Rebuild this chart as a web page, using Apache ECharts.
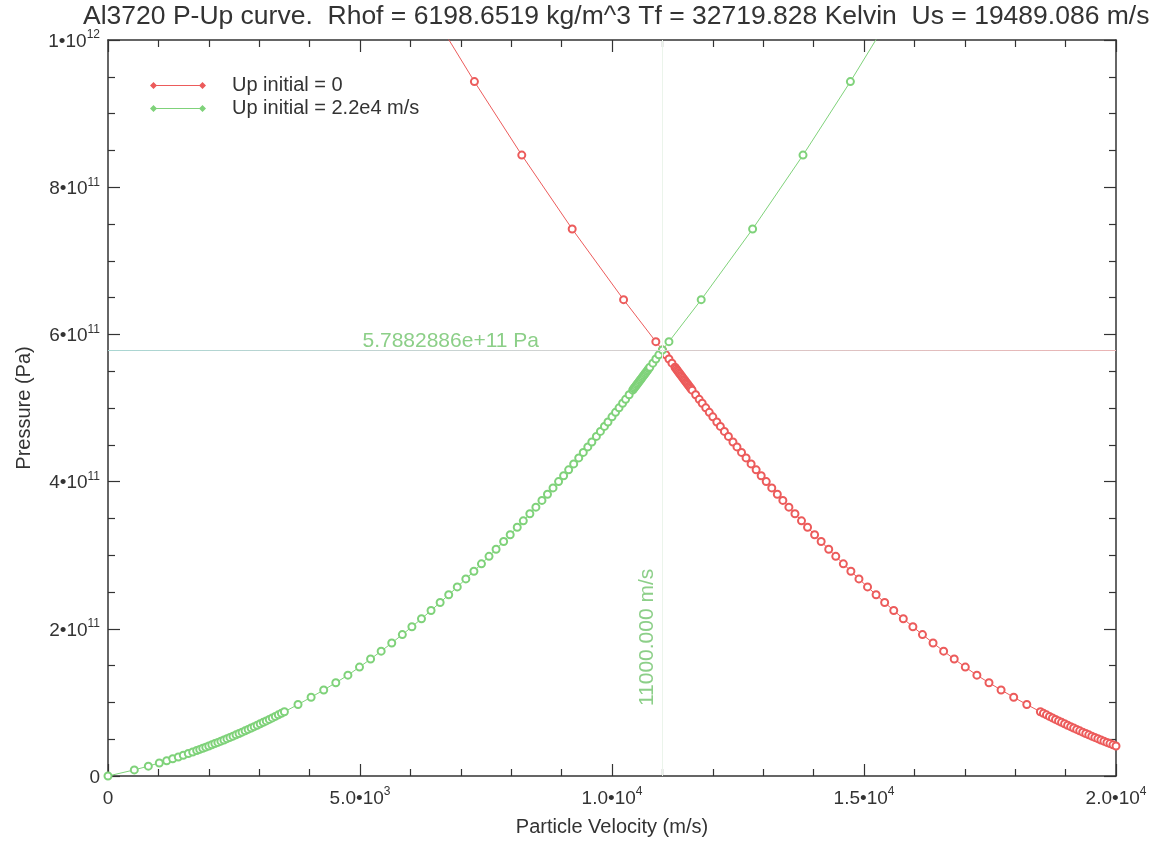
<!DOCTYPE html>
<html>
<head>
<meta charset="utf-8">
<script src="https://cdn.jsdelivr.net/npm/echarts@6/dist/echarts.min.js"></script>
<style>
  html, body { margin: 0; padding: 0; background: #ffffff; }
  #chart { width: 1162px; height: 842px; }
</style>
</head>
<body>
<div id="chart"></div>
<script>
// Branch starting at Up = 0 (rising curve, green)
const risingVelocity = [
  0, 522, 800, 1018, 1165, 1284, 1395, 1494, 1593, 1681, 1760,
  1820, 1880, 1940, 2000, 2060, 2120, 2180, 2240, 2300, 2360, 2420, 2480, 2540, 2600, 2660,
  2720, 2780, 2840, 2900, 2960, 3020, 3080, 3140, 3200, 3260, 3320, 3380, 3440, 3500,
  3770, 4030, 4280, 4520, 4760, 4990, 5210, 5420, 5630, 5840, 6030, 6220, 6410, 6590, 6760,
  6930, 7100, 7260, 7410, 7560, 7700, 7850, 7980, 8120, 8240, 8370, 8490, 8610, 8720, 8830,
  8940, 9040, 9140, 9240, 9340, 9430, 9520, 9600, 9690, 9770, 9850, 9920, 10000, 10070,
  10140, 10210, 10270, 10340,
  10410, 10430, 10450, 10470, 10490, 10510, 10530, 10550, 10570, 10590, 10610, 10630,
  10650, 10670, 10690, 10710, 10730, 10750,
  10810, 10870, 10930, 11000, 11130, 11770, 12790, 13790, 14730, 15660
];
// Pressure along the rising curve, GPa
const risingPressure = [
  0, 8.30, 13.39, 17.71, 20.79, 23.38, 25.87, 28.16, 30.50, 32.64, 34.59,
  36.11, 37.64, 39.19, 40.77, 42.37, 43.99, 45.63, 47.30, 48.98, 50.69, 52.42, 54.17, 55.94, 57.74, 59.56,
  61.40, 63.26, 65.14, 67.04, 68.97, 70.92, 72.89, 74.88, 76.90, 78.93, 80.99, 83.07, 85.17, 87.29,
  97.12, 107.00, 116.89, 126.74, 136.98, 147.98, 158.89, 169.64, 180.73, 192.16, 202.78, 213.69, 224.87, 235.72, 246.19,
  256.88, 267.79, 278.26, 288.26, 298.43, 308.07, 318.57, 327.81, 337.91, 346.68, 356.30, 365.31, 374.42, 382.86, 391.40,
  400.04, 407.97, 415.97, 424.05, 432.21, 439.62, 447.09, 453.78, 461.36, 468.16, 475.00, 481.03, 487.97, 494.07,
  500.22, 506.40, 511.74, 517.99,
  524.28, 526.08, 527.89, 529.70, 531.52, 533.33, 535.15, 536.97, 538.80, 540.63, 542.46, 544.30,
  546.13, 547.97, 549.81, 551.67, 553.52, 555.37,
  560.95, 566.55, 572.19, 578.83, 590.12, 647.2, 743.2, 843.6, 943.5, 1047.8
];

// Branch starting at Up = 2.2e4 m/s (falling curve, red)
const fallingVelocity = [
  6340, 7270, 8210, 9210, 10230, 10870, 11000, 11070, 11130, 11190,
  11250, 11270, 11290, 11310, 11330, 11350, 11370, 11390, 11410, 11430, 11450, 11470,
  11490, 11510, 11530, 11550, 11570, 11590,
  11660, 11730, 11790, 11860, 11930, 12000, 12080, 12150, 12230, 12310, 12400, 12480,
  12570, 12660, 12760, 12860, 12960, 13060, 13170, 13280, 13390, 13510, 13630, 13760,
  13880, 14020, 14150, 14300, 14440, 14590, 14740, 14900, 15070, 15240, 15410, 15590,
  15780, 15970, 16160, 16370, 16580, 16790, 17010, 17240, 17480, 17720, 17970, 18230,
  18500, 18560, 18620, 18680, 18740, 18800, 18860, 18920, 18980, 19040, 19100, 19160,
  19220, 19280, 19340, 19400, 19460, 19520, 19580, 19640, 19700, 19760, 19820, 19880,
  19940, 20000, 20060, 20120, 20180
];
// Pressure along the falling curve, GPa
const fallingPressure = [
  1047.8, 943.5, 843.6, 743.2, 647.2, 590.12, 578.83, 572.19, 566.55, 560.95,
  555.37, 553.52, 551.67, 549.81, 547.97, 546.13, 544.30, 542.46, 540.63, 538.80, 536.97, 535.15,
  533.33, 531.52, 529.70, 527.89, 526.08, 524.28,
  517.99, 511.74, 506.40, 500.22, 494.07, 487.97, 481.03, 475.00, 468.16, 461.36, 453.78, 447.09,
  439.62, 432.21, 424.05, 415.97, 407.97, 400.04, 391.40, 382.86, 374.42, 365.31, 356.30, 346.68,
  337.91, 327.81, 318.57, 308.07, 298.43, 288.26, 278.26, 267.79, 256.88, 246.19, 235.72, 224.87,
  213.69, 202.78, 192.16, 180.73, 169.64, 158.89, 147.98, 136.98, 126.74, 116.89, 107.00, 97.12,
  87.29, 85.17, 83.07, 80.99, 78.93, 76.90, 74.88, 72.89, 70.92, 68.97, 67.04, 65.14,
  63.26, 61.40, 59.56, 57.74, 55.94, 54.17, 52.42, 50.69, 48.98, 47.30, 45.63, 43.99,
  42.37, 40.77, 39.19, 37.64, 36.11
];

// Crossing point of the two branches
const crossVelocity = 11000;          // m/s
const crossPressure = 5.7882886e11;   // Pa

// Tick labels: mantissa and superscript exponent
const xTickMantissa = ['0', '5.0\u202210', '1.0\u202210', '1.5\u202210', '2.0\u202210'];
const xTickExponent = ['', '3', '4', '4', '4'];
const yTickMantissa = ['0', '2\u202210', '4\u202210', '6\u202210', '8\u202210', '1\u202210'];
const yTickExponent = ['', '11', '11', '11', '11', '12'];

const seriesNames = ['Up initial = 0', 'Up initial = 2.2e4 m/s'];
const titleText = 'Al3720 P-Up curve.  Rhof = 6198.6519 kg/m^3 Tf = 32719.828 Kelvin  Us = 19489.086 m/s';

const RED = '#ec5b5b';
const GREEN = '#7fd27a';
const NOTE = '#8ccf88';
const FONT = '"Liberation Sans", Arial, Helvetica, sans-serif';
const TEXT = '#333333';

function pairs(vel, pGPa) {
  return vel.map((v, i) => [v, pGPa[i] * 1e9]);
}

function tickRich(mant, exp) {
  return exp ? '{m|' + mant + '}{e|' + exp + '}' : '{m|' + mant + '}';
}

const richStyle = {
  m: { fontSize: 19, lineHeight: 22, color: TEXT, fontFamily: FONT, verticalAlign: 'bottom' },
  e: { fontSize: 12, lineHeight: 12, color: TEXT, fontFamily: FONT, verticalAlign: 'bottom', padding: [0, 0, 10, 0] }
};

const frameAxisLine = { show: true, onZero: false, lineStyle: { color: '#333', width: 1.5 } };
const xTick = { show: true, inside: true, length: 12, lineStyle: { color: '#333', width: 1.2 } };
const xMinor = { show: true, splitNumber: 5, length: 7, lineStyle: { color: '#333', width: 1.2 } };
const yTick = { show: true, inside: true, length: 12, lineStyle: { color: '#333', width: 1.2 } };
const yMinor = { show: true, splitNumber: 4, length: 7, lineStyle: { color: '#333', width: 1.2 } };

const legendIcon = 'path://M0,3.5L3.5,0L7,3.5L3.5,7Z M49,3.5L52.5,0L56,3.5L52.5,7Z M3.5,3L52.5,3L52.5,4L3.5,4Z';

const chart = echarts.init(document.getElementById('chart'), null, { renderer: 'canvas' });

chart.setOption({
  backgroundColor: '#ffffff',
  animation: false,
  title: {
    text: titleText,
    left: 78,
    top: -2,
    textStyle: { fontFamily: FONT, fontSize: 26.5, fontWeight: 'normal', color: TEXT }
  },
  legend: {
    orient: 'vertical',
    left: 150,
    top: 75,
    padding: 0,
    itemWidth: 56,
    itemHeight: 7,
    itemGap: 2,
    itemStyle: { borderWidth: 0 },
    data: [
      { name: seriesNames[0], icon: legendIcon },
      { name: seriesNames[1], icon: legendIcon }
    ],
    textStyle: { fontFamily: FONT, fontSize: 20, color: TEXT, lineHeight: 21, padding: [0, 0, 0, 21] }
  },
  grid: { left: 108, right: 46, top: 40, bottom: 64, containLabel: false },
  xAxis: [
    {
      type: 'value', position: 'bottom', min: 0, max: 20000, interval: 5000,
      name: 'Particle Velocity (m/s)', nameLocation: 'middle', nameGap: 41,
      nameTextStyle: { fontFamily: FONT, fontSize: 20, color: TEXT },
      axisLine: frameAxisLine, axisTick: xTick, minorTick: xMinor,
      splitLine: { show: false },
      axisLabel: {
        margin: 10,
        formatter: (v) => { const i = Math.round(v / 5000); return tickRich(xTickMantissa[i], xTickExponent[i]); },
        rich: richStyle
      }
    },
    {
      type: 'value', position: 'top', min: 0, max: 20000, interval: 5000,
      axisLine: frameAxisLine, axisTick: xTick, minorTick: xMinor,
      splitLine: { show: false }, axisLabel: { show: false }
    }
  ],
  yAxis: [
    {
      type: 'value', position: 'left', min: 0, max: 1e12, interval: 2e11,
      name: 'Pressure (Pa)', nameLocation: 'middle', nameGap: 74, nameRotate: 90,
      nameTextStyle: { fontFamily: FONT, fontSize: 20, color: TEXT },
      axisLine: frameAxisLine, axisTick: yTick, minorTick: yMinor,
      splitLine: { show: false },
      axisLabel: {
        margin: 8,
        formatter: (v) => { const i = Math.round(v / 2e11); return tickRich(yTickMantissa[i], yTickExponent[i]); },
        rich: richStyle
      }
    },
    {
      type: 'value', position: 'right', min: 0, max: 1e12, interval: 2e11,
      axisLine: frameAxisLine, axisTick: yTick, minorTick: yMinor,
      splitLine: { show: false }, axisLabel: { show: false }
    }
  ],
  series: [
    {
      name: seriesNames[0],
      type: 'line',
      xAxisIndex: 0, yAxisIndex: 0,
      data: pairs(fallingVelocity, fallingPressure),
      showSymbol: true, showAllSymbol: true,
      symbol: 'emptyCircle', symbolSize: 7,
      itemStyle: { color: RED, borderColor: RED, borderWidth: 1.2 },
      lineStyle: { color: RED, width: 1 },
      clip: true, z: 3,
      markLine: {
        silent: true, symbol: ['none', 'none'], label: { show: false },
        data: [
          { yAxis: crossPressure, lineStyle: {
              width: 1, type: 'solid',
              color: new echarts.graphic.LinearGradient(0, 0, 1, 0, [
                { offset: 0, color: '#a9d6d2' }, { offset: 0.45, color: '#d2d2d2' }, { offset: 1, color: '#eab4b4' }
              ]) } },
          { xAxis: crossVelocity, lineStyle: { width: 1, type: 'solid', color: '#ebf4eb' } }
        ]
      }
    },
    {
      name: seriesNames[1],
      type: 'line',
      xAxisIndex: 0, yAxisIndex: 0,
      data: pairs(risingVelocity, risingPressure),
      showSymbol: true, showAllSymbol: true,
      symbol: 'emptyCircle', symbolSize: 7,
      itemStyle: { color: GREEN, borderColor: GREEN, borderWidth: 1.2 },
      lineStyle: { color: GREEN, width: 1 },
      clip: true, z: 3,
      markPoint: {
        silent: true, symbol: 'circle', symbolSize: 0,
        data: [
          { coord: [6800, crossPressure], label: {
              show: true, position: 'top', distance: 1, offset: [0, 3],
              formatter: '5.7882886e+11 Pa',
              fontFamily: FONT, fontSize: 21, color: NOTE } },
          { coord: [10700, 1.883e11], label: {
              show: true, position: 'inside', rotate: 90,
              formatter: '11000.000 m/s',
              fontFamily: FONT, fontSize: 21, color: NOTE } }
        ]
      }
    }
  ]
});
</script>
</body>
</html>
